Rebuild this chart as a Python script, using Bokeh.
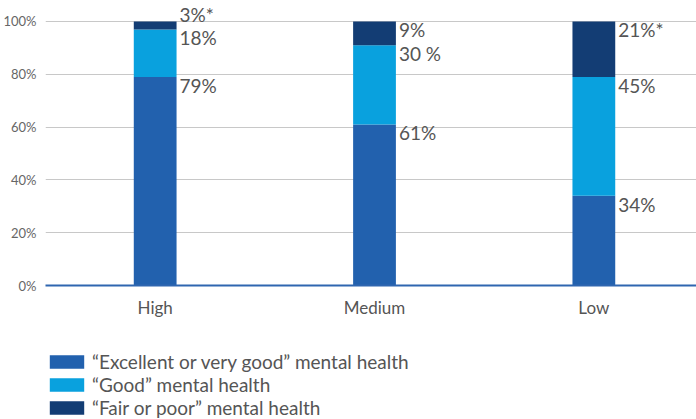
from bokeh.plotting import figure
from bokeh.layouts import column
from bokeh.models import (ColumnDataSource, Range1d, FixedTicker, PrintfTickFormatter,
                          Legend, LegendItem)
from bokeh.core.properties import value
from bokeh.embed import file_html
from bokeh.resources import INLINE

# ---- data ----
categories = ["High", "Medium", "Low"]
excellent = [79, 61, 34]
good = [18, 30, 45]
fair = [3, 9, 21]
label_texts = {
    "excellent": ["79%", "61%", "34%"],
    "good": ["18%", "30 %", "45%"],
    "fair": ["3%*", "9%", "21%*"],
}
series = ["excellent", "good", "fair"]
legend_labels = ["\u201cExcellent or very good\u201d mental health",
                 "\u201cGood\u201d mental health",
                 "\u201cFair or poor\u201d mental health"]
y_ticks = [0, 20, 40, 60, 80, 100]

# ---- style ----
colors = ["#2261ae", "#09a1de", "#133d74"]
FONT = "Lato"
TEXT = "#555555"
BAR_W = 0.195

xs = [i + 0.5 for i in range(len(categories))]
source = ColumnDataSource(dict(x=xs, excellent=excellent, good=good, fair=fair))

p = figure(width=696, height=340, output_backend="svg", toolbar_location=None,
           x_range=Range1d(0, 2.968), y_range=Range1d(0, 107.95),
           min_border=0, min_border_left=43, min_border_bottom=55,
           outline_line_color=None)

renderers = p.vbar_stack(series, x="x", width=BAR_W, color=colors, line_color=None,
                         source=source)

# value labels: top of each segment; the small top segment of "High" sits above the bar
shift_px = {("High", "fair"): 18}
lx, ly, lt, loff = [], [], [], []
vals = {"excellent": excellent, "good": good, "fair": fair}
for i, c in enumerate(categories):
    cum = 0
    for s in series:
        cum += vals[s][i]
        lx.append(xs[i] + BAR_W / 2)
        ly.append(cum)
        lt.append(label_texts[s][i])
        loff.append(-shift_px.get((c, s), 3))
lsrc = ColumnDataSource(dict(x=lx, y=ly, text=lt, yo=loff))
p.text(x="x", y="y", text="text", source=lsrc, x_offset=3, y_offset="yo",
       text_baseline="top", text_align="left", text_font=value(FONT),
       text_font_size="19px", text_color=TEXT)

# axes
p.xaxis.ticker = FixedTicker(ticks=xs)
p.xaxis.major_label_overrides = {x: c for x, c in zip(xs, categories)}
p.xaxis.major_tick_line_color = None
p.xaxis.minor_tick_line_color = None
p.xaxis.axis_line_color = "#2f66b0"
p.xaxis.axis_line_width = 2
p.xaxis.major_label_standoff = 5
p.xaxis.major_label_text_font = FONT
p.xaxis.major_label_text_font_size = "17px"
p.xaxis.major_label_text_color = TEXT

p.yaxis.ticker = FixedTicker(ticks=y_ticks)
p.yaxis.formatter = PrintfTickFormatter(format="%d%%")
p.yaxis.axis_line_color = None
p.yaxis.major_tick_line_color = None
p.yaxis.minor_tick_line_color = None
p.yaxis.major_label_standoff = 3
p.yaxis.major_label_text_font = FONT
p.yaxis.major_label_text_font_size = "13px"
p.yaxis.major_label_text_color = "#666666"

p.xgrid.grid_line_color = None
p.ygrid.grid_line_color = "#c8c8c8"
p.ygrid.grid_line_width = 1

# ---- legend in its own strip below the chart ----
lg = figure(width=696, height=79, output_backend="svg", toolbar_location=None,
            x_range=Range1d(0, 1), y_range=Range1d(0, 1),
            x_axis_location=None, y_axis_location=None,
            min_border=0, min_border_left=0, outline_line_color=None)
lg.grid.grid_line_color = None
# zero-height proxies, only used to draw the legend swatches
leg_renderers = [lg.vbar(x=[0.5], top=[0], width=0.1, color=c, line_color=None) for c in colors]
legend = Legend(items=[LegendItem(label=l, renderers=[r]) for l, r in zip(legend_labels, leg_renderers)],
                location=(0, 0), orientation="vertical",
                glyph_width=43, glyph_height=17, label_height=17, spacing=0,
                label_standoff=4, label_text_font=FONT, label_text_font_size="19px",
                label_text_color=TEXT, border_line_color=None,
                background_fill_alpha=0, padding=0, margin=0)
lg.add_layout(legend, "center")

layout = column(p, lg, spacing=0)
open("out.html", "w").write(file_html(layout, INLINE))
